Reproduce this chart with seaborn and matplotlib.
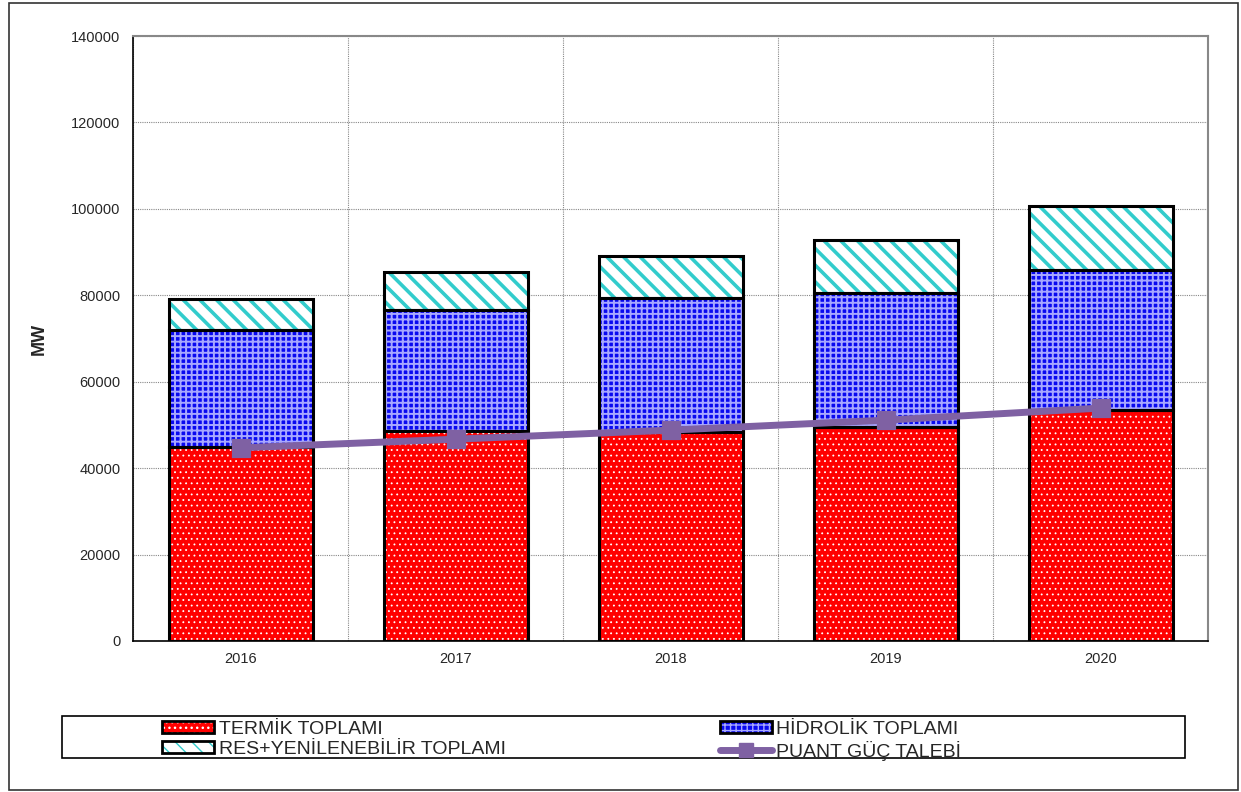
import numpy as np
import pandas as pd
import matplotlib
matplotlib.use("Agg")
import matplotlib.pyplot as plt
import seaborn as sns
from matplotlib.patches import Patch, Rectangle
from matplotlib.lines import Line2D
from matplotlib.legend_handler import HandlerTuple

years = ["2016", "2017", "2018", "2019", "2020"]
termik = [45000, 48500, 48400, 49500, 53500]
hidrolik = [27000, 28100, 30900, 31000, 32400]
yenilenebilir = [7100, 8900, 9900, 12200, 14800]
puant = [44700, 46700, 48800, 51100, 53900]

labels = ["TERMİK TOPLAMI", "HİDROLİK TOPLAMI", "RES+YENİLENEBİLİR TOPLAMI", "PUANT GÜÇ TALEBİ"]

df = pd.DataFrame({"yil": years, "termik": termik, "hidrolik": hidrolik,
                   "yenilenebilir": yenilenebilir, "puant": puant})
bottom_h = np.array(termik)
bottom_r = np.array(termik) + np.array(hidrolik)

sns.set_style("white")
plt.rcParams["font.family"] = ["Liberation Sans", "DejaVu Sans"]

fig = plt.figure(figsize=(12.41, 7.92), dpi=100)
ax = fig.add_axes([133/1241, 1-641/792, (1208-133)/1241, (641-36)/792])

# layer styles: (column, bottom, face, hatch, hatch colour, hatch width)
layers = [("termik", None, "#ff0000", "...", "white", 0.6),
          ("hidrolik", bottom_h, "#0a0af0", "+++", "#a8a8ff", 1.4),
          ("yenilenebilir", bottom_r, "white", "\\\\", "#33cccc", 2.6)]
bw = 144/215
patches = {}
for col, bot, face, hatch, hc, hlw in layers:
    kw = {} if bot is None else {"bottom": bot}
    with plt.rc_context({"hatch.linewidth": hlw}):
        sns.barplot(data=df, x="yil", y=col, ax=ax, color=face, saturation=1,
                    width=bw, errorbar=None, hatch=hatch, edgecolor=hc,
                    linewidth=0, zorder=2, **kw)
        patches[col] = Patch(facecolor=face, hatch=hatch, edgecolor=hc, linewidth=0)
    sns.barplot(data=df, x="yil", y=col, ax=ax, fill=False, color="black",
                width=bw, errorbar=None, edgecolor="black", linewidth=2.2,
                zorder=3, **kw)

purple = "#7F61A3"
sns.pointplot(data=df, x="yil", y="puant", ax=ax, color=purple, markers="s",
              errorbar=None, linewidth=5, markersize=10, zorder=4)

ax.set_xlim(-0.5, 4.5)
ax.set_ylim(0, 140000)
ax.set_yticks(np.arange(0, 140001, 20000))
ax.set_yticklabels([str(v) for v in range(0, 140001, 20000)])
ax.set_xticks(range(5))
ax.set_xticklabels(years)
ax.set_xticks(np.arange(-0.5, 5, 1), minor=True)
ax.tick_params(axis="x", which="major", length=0, labelsize=10.5, pad=8)
ax.tick_params(axis="x", which="minor", length=5, width=1, color="black", direction="out")
ax.tick_params(axis="y", length=5, width=1, color="black", direction="out", labelsize=10.5, pad=4)
ax.grid(True, axis="y", linestyle=(0, (1, 1)), color="#888888", linewidth=0.8, zorder=0)
ax.grid(True, axis="x", which="minor", linestyle=(0, (1, 1)), color="#888888", linewidth=0.8, zorder=0)
ax.set_axisbelow(True)
ax.set_xlabel("")
ax.set_ylabel("MW", fontsize=13, fontweight="bold", labelpad=17)
for s in ["left", "bottom"]:
    ax.spines[s].set_color("black")
    ax.spines[s].set_linewidth(1.2)
for s in ["top", "right"]:
    ax.spines[s].set_color("#888888")
    ax.spines[s].set_linewidth(1.5)

# legend (row order: termik, hidrolik / res, puant)
def outline():
    return Patch(facecolor="none", edgecolor="black", linewidth=2)

h_ter = (patches["termik"], outline())
h_hid = (patches["hidrolik"], outline())
h_res = (patches["yenilenebilir"], outline())
h_pu = Line2D([], [], color=purple, linewidth=5, marker="s", markersize=10)
fs = 14
px = fs * 100 / 72
leg = fig.legend([h_ter, h_res, h_hid, h_pu],
                 [labels[0], labels[2], labels[1], labels[3]], ncol=2, frameon=False,
                 loc="upper left", bbox_to_anchor=(158/1241, 1-717/792),
                 fontsize=fs, handlelength=52/px, handleheight=11/px,
                 handletextpad=0.25, labelspacing=0.15, columnspacing=11.0,
                 borderpad=0.2, borderaxespad=0, numpoints=1,
                 handler_map={tuple: HandlerTuple(ndivide=1, pad=0)})

fig.add_artist(Rectangle((62/1241, 1-758/792), (1185-62)/1241, 42/792,
                         transform=fig.transFigure, fill=False,
                         edgecolor="black", linewidth=1.2))
fig.add_artist(Rectangle((9/1241, 1-790/792), (1238-9)/1241, 787/792,
                         transform=fig.transFigure, fill=False,
                         edgecolor="#333333", linewidth=1.2))

fig.savefig("out.png", dpi=100)
